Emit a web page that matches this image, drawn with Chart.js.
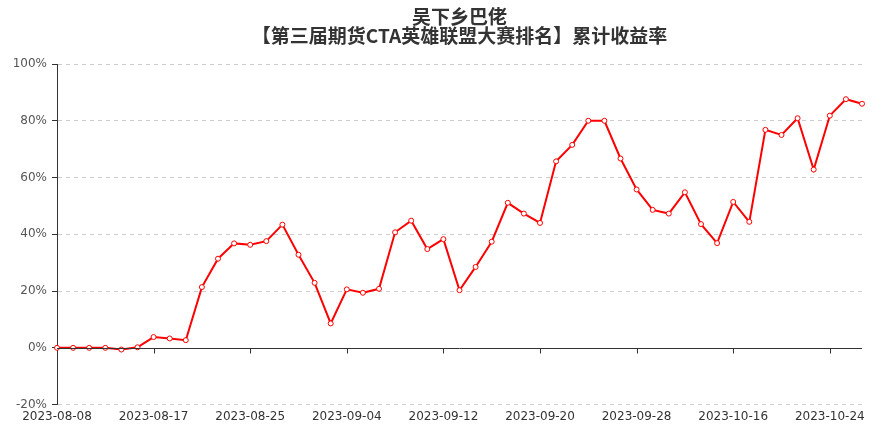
<!DOCTYPE html>
<html>
<head>
<meta charset="utf-8">
<script src="https://cdn.jsdelivr.net/npm/chart.js@4"></script>
<style>
  html, body { margin: 0; padding: 0; background: #fff; }
  #wrap { width: 883px; height: 427px; }
</style>
</head>
<body>
<div id="wrap"><canvas id="retChart" width="883" height="427"></canvas></div>
<script>
// trading days shown on the x axis
const dates = [
  '2023-08-08', '2023-08-09', '2023-08-10', '2023-08-14', '2023-08-15', '2023-08-16',
  '2023-08-17', '2023-08-18', '2023-08-21', '2023-08-22', '2023-08-23', '2023-08-24',
  '2023-08-25', '2023-08-28', '2023-08-29', '2023-08-30', '2023-08-31', '2023-09-01',
  '2023-09-04', '2023-09-05', '2023-09-06', '2023-09-07', '2023-09-08', '2023-09-11',
  '2023-09-12', '2023-09-13', '2023-09-14', '2023-09-15', '2023-09-18', '2023-09-19',
  '2023-09-20', '2023-09-21', '2023-09-22', '2023-09-25', '2023-09-26', '2023-09-27',
  '2023-09-28', '2023-10-09', '2023-10-10', '2023-10-11', '2023-10-12', '2023-10-13',
  '2023-10-16', '2023-10-17', '2023-10-18', '2023-10-19', '2023-10-20', '2023-10-23',
  '2023-10-24', '2023-10-25', '2023-10-26'
];

// cumulative return, percent
const cumReturn = [
  0.0, 0.0, 0.0, 0.0, -0.6, 0.2, 3.8, 3.3, 2.7, 21.4,
  31.4, 36.8, 36.3, 37.6, 43.4, 32.8, 22.9, 8.6, 20.6, 19.4,
  20.8, 40.7, 44.8, 34.8, 38.3, 20.3, 28.5, 37.4, 51.1, 47.3,
  44.0, 65.7, 71.5, 80.0, 80.0, 66.7, 55.8, 48.6, 47.3, 54.8,
  43.6, 36.9, 51.4, 44.4, 76.8, 75.0, 80.9, 62.8, 81.8, 87.6,
  86.0
];

const yTicks = [-20, 0, 20, 40, 60, 80, 100];
const labelEvery = 6;

const titleLines = ['吴下乡巴佬', '【第三届期货CTA英雄联盟大赛排名】累计收益率'];

// zero axis line with downward tick marks (x axis sits on 0%)
const zeroAxis = {
  id: 'zeroAxis',
  afterDatasetsDraw(chart) {
    const { ctx, chartArea, scales: { x, y } } = chart;
    const y0 = Math.round(y.getPixelForValue(0)) + 0.5;
    ctx.save();
    ctx.strokeStyle = '#333';
    ctx.lineWidth = 1;
    ctx.beginPath();
    ctx.moveTo(chartArea.left, y0);
    ctx.lineTo(chartArea.right, y0);
    for (let i = labelEvery; i < dates.length; i += labelEvery) {
      const px = Math.round(x.getPixelForValue(i)) + 0.5;
      ctx.moveTo(px, y0);
      ctx.lineTo(px, y0 + 5);
    }
    ctx.stroke();
    ctx.restore();
  }
};

const ctx = document.getElementById('retChart').getContext('2d');
new Chart(ctx, {
  type: 'line',
  data: {
    labels: dates,
    datasets: [{
      data: cumReturn,
      borderColor: '#ff0000',
      borderWidth: 2,
      pointRadius: 2.5,
      pointBorderWidth: 1,
      pointBackgroundColor: '#fff',
      pointBorderColor: '#ff0000',
      tension: 0
    }]
  },
  options: {
    responsive: false,
    animation: false,
    layout: { padding: { left: 0, right: 21, bottom: -2, top: 0 } },
    plugins: {
      legend: { display: false },
      tooltip: { enabled: false },
      title: {
        display: true,
        fullSize: false,
        text: titleLines,
        color: '#333',
        font: { family: '"Noto Sans CJK SC", sans-serif', size: 19, weight: 'bold', lineHeight: 1.0 },
        padding: { top: 7, bottom: 19 }
      }
    },
    scales: {
      x: {
        offset: false,
        grid: { display: false, drawTicks: false },
        border: { display: false },
        ticks: {
          autoSkip: false,
          maxRotation: 0,
          padding: 5,
          color: '#333',
          font: { family: '"DejaVu Sans", sans-serif', size: 12 },
          callback: (v, i) => (i % labelEvery === 0 ? dates[i] : '')
        }
      },
      y: {
        min: -20,
        max: 100,
        afterBuildTicks: (s) => { s.ticks = yTicks.map(v => ({ value: v })); },
        afterFit: (s) => { s.width = 57; },
        grid: {
          color: (c) => (c.tick && c.tick.value === 0 ? 'rgba(0,0,0,0)' : '#ccc'),
          tickColor: '#333',
          tickLength: 5,
          tickBorderDash: []
        },
        border: {
          display: true,
          color: '#333',
          width: 1,
          dash: [4, 4]
        },
        ticks: {
          padding: 5,
          color: '#555',
          font: { family: '"DejaVu Sans", sans-serif', size: 12 },
          callback: (v) => v + '%'
        }
      }
    }
  },
  plugins: [zeroAxis]
});
</script>
</body>
</html>
